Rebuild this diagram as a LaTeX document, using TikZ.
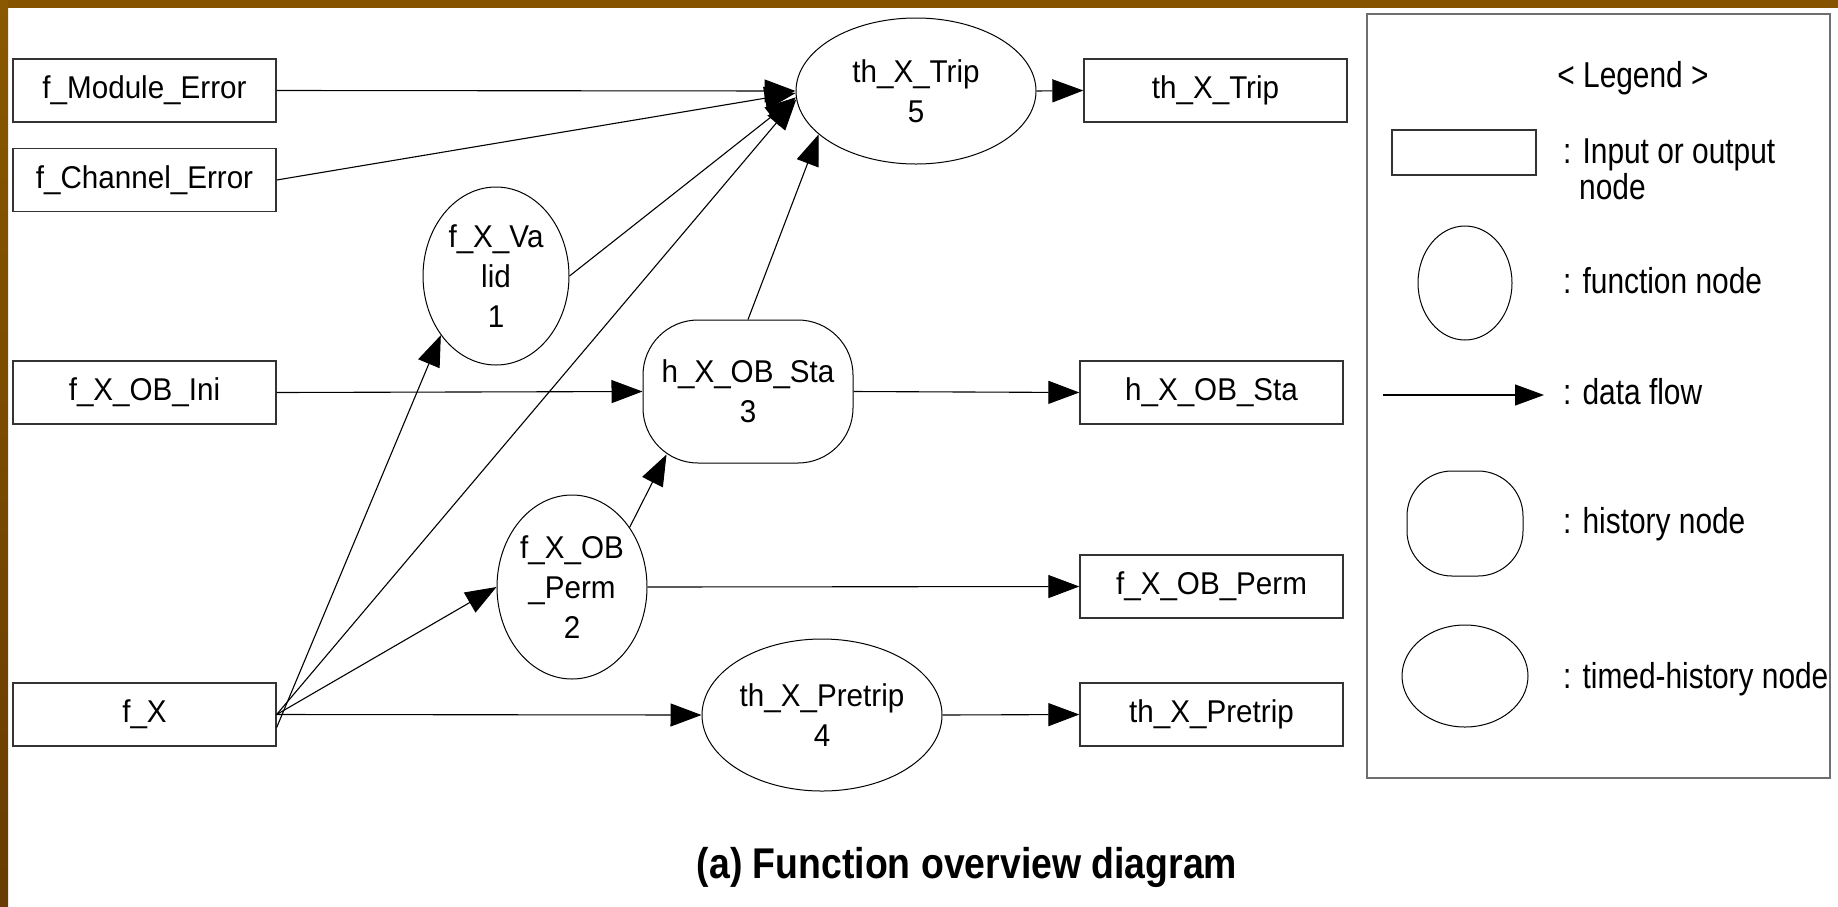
\documentclass[tikz,border=0pt]{standalone}
\usepackage{fontspec}
\setmainfont{Liberation Sans}
\newfontfamily\nodefont[FakeStretch=0.94]{Liberation Sans}
\newfontfamily\legendfont[FakeStretch=0.83]{Liberation Sans}
\newfontfamily\captionfont[FakeStretch=0.87]{Liberation Sans}
\usetikzlibrary{arrows.meta,shapes.geometric,calc}

\definecolor{barbrown}{RGB}{134,84,0}
\definecolor{sidetop}{RGB}{138,88,0}
\definecolor{sidemid}{RGB}{160,108,0}
\definecolor{sidebot}{RGB}{104,60,2}
\definecolor{framegray}{RGB}{110,110,110}

\tikzset{
  txt/.style={font=\nodefont\fontsize{31.5}{40}\selectfont, align=center},
  iobox/.style={txt, draw=black!80, line width=1.3pt, minimum width=263pt, minimum height=63pt, inner sep=0pt},
  funcnode/.style={txt, draw, ellipse, line width=1pt, inner sep=0pt},
  histnode/.style={txt, draw, line width=1pt, rounded corners=55pt, inner sep=0pt},
  flow/.style={line width=1.1pt, -{Triangle[length=31pt, width=23pt]}},
  legtxt/.style={font=\legendfont\fontsize{36}{40}\selectfont, inner sep=0pt},
}

\begin{document}
\begin{tikzpicture}[x=1pt, y=-1pt]
  \useasboundingbox (0,0) rectangle (1838,906);
  \fill[white] (0,0) rectangle (1838,906);

  % frame strips
  \fill[barbrown] (0,0) rectangle (1838,8);
  \shade[top color=sidetop, middle color=sidemid, bottom color=sidebot] (0,0) rectangle (8,906);

  % input nodes
  \node[iobox] (mod)  at (144.5, 90.5)  {f\_Module\_Error};
  \node[iobox] (chan) at (144.5, 180)   {f\_Channel\_Error};
  \node[iobox] (ini)  at (144.5, 392.5) {f\_X\_OB\_Ini};
  \node[iobox] (fx)   at (144.5, 714.5) {f\_X};

  % function, history and timed-history nodes
  \node[funcnode, minimum width=240pt, minimum height=146pt] (trip) at (916, 91) {th\_X\_Trip\\5};
  \node[funcnode, minimum width=146pt, minimum height=178pt] (valid) at (496, 276) {f\_X\_Va\\lid\\1};
  \node[histnode, minimum width=210pt, minimum height=143pt] (sta) at (748, 391.5) {h\_X\_OB\_Sta\\3};
  \node[funcnode, minimum width=150pt, minimum height=184pt] (perm) at (572, 587) {f\_X\_OB\\\_Perm\\2};
  \node[funcnode, minimum width=240pt, minimum height=152pt] (pretrip) at (822, 715) {th\_X\_Pretrip\\4};

  % output nodes
  \node[iobox] (tripout)    at (1215.5, 90.5)  {th\_X\_Trip};
  \node[iobox] (staout)     at (1211.5, 392.5) {h\_X\_OB\_Sta};
  \node[iobox] (permout)    at (1211.5, 586.5) {f\_X\_OB\_Perm};
  \node[iobox] (pretripout) at (1211.5, 714.5) {th\_X\_Pretrip};

  % data flows
  \draw[flow] (mod.east) -- (trip.west);
  \draw[flow] (chan.east) -- (trip.181);
  \draw[flow] (valid.east) -- (trip.183);
  \draw[flow] (fx.east) -- (trip.184);
  \draw[flow] (sta.north) -- (trip.204);
  \draw[flow] (ini.east) -- (sta.west);
  \draw[flow] (sta.east) -- (staout.west);
  \draw[flow] (perm.46) -- ([xshift=24pt, yshift=9pt]sta.south west);
  \draw[flow] (perm.east) -- (permout.west);
  \draw[flow] (fx.east) -- (perm.west);
  \draw[flow] ([yshift=-13pt]fx.east) -- (valid.227);
  \draw[flow] (fx.east) -- (pretrip.west);
  \draw[flow] (pretrip.east) -- (pretripout.west);
  \draw[flow] (trip.east) -- (tripout.west);

  % legend
  \draw[framegray, line width=1.3pt] (1367,14) rectangle (1830,778);
  \node[legtxt] (legtitle) at (1633, 78) {< Legend >};
  \node[draw=black!80, line width=1.3pt, minimum width=144pt, minimum height=45pt, inner sep=0pt] (legbox) at (1464, 152.5) {};
  \node[legtxt, anchor=base west] (legio) at (1563, 163) {: Input or output};
  \node[legtxt, anchor=base west] (legio2) at (1579, 199) {node};
  \node[draw, ellipse, line width=1pt, minimum width=94pt, minimum height=114pt, inner sep=0pt] (legfunc) at (1465, 283) {};
  \node[legtxt, anchor=base west] (legfunctxt) at (1563, 293) {: function node};
  \coordinate (flowa) at (1383, 395);
  \coordinate (flowb) at (1544, 395);
  \draw[line width=1.1pt, -{Triangle[length=29pt, width=21pt]}] (flowa) -- (flowb);
  \node[legtxt, anchor=base west] (legflow) at (1563, 404) {: data flow};
  \node[draw, line width=1pt, rounded corners=45pt, minimum width=116pt, minimum height=105pt, inner sep=0pt] (leghist) at (1465, 523.5) {};
  \node[legtxt, anchor=base west] (leghisttxt) at (1563, 533) {: history node};
  \node[draw, ellipse, line width=1pt, minimum width=126pt, minimum height=102pt, inner sep=0pt] (legtimed) at (1465, 676) {};
  \node[legtxt, anchor=base west] (legtimedtxt) at (1563, 688) {: timed-history node};

  % caption
  \node[anchor=base, inner sep=0pt, font=\captionfont\bfseries\fontsize{43}{48}\selectfont] (caption) at (967, 878) {(a) Function overview diagram};
\end{tikzpicture}
\end{document}
